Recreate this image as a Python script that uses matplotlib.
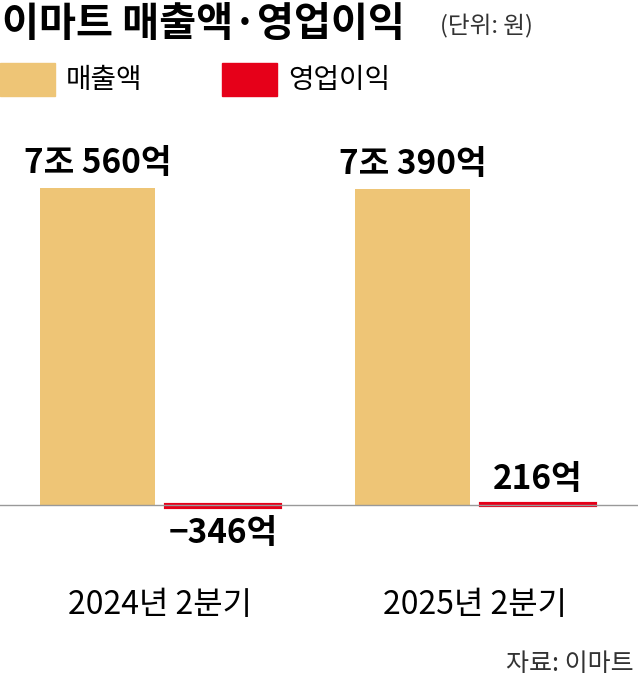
import matplotlib
matplotlib.use("Agg")
import matplotlib.pyplot as plt

plt.rcParams['font.family'] = ['Noto Sans CJK KR', 'DejaVu Sans']

categories = ["2024년 2분기", "2025년 2분기"]
revenue = [70560, 70390]
profit = [-346, 216]
revenue_labels = ["7조 560억", "7조 390억"]
profit_labels = ["−346억", "216억"]

W, H = 638, 684
fig = plt.figure(figsize=(W/100, H/100), dpi=100)
ax = fig.add_axes([0, (H-560)/H, 1, 440/H])
scale = 70560/317
ax.set_xlim(-160/315, (638-160)/315)
ax.set_ylim(-55*scale, 385*scale)
ax.axis('off')

tan = '#eec576'
red = '#e60019'
xs = [0, 1]
ax.bar([x-0.198 for x in xs], revenue, width=0.365, color=tan)
ax.axhline(0, color='#999999', linewidth=1)
ax.bar([x+0.2 for x in xs], profit, width=0.36, color=red, edgecolor=red, linewidth=3)

for i, x in enumerate(xs):
    ax.text(x-0.198, revenue[i]+8*scale, revenue_labels[i], ha='center', va='bottom',
            fontsize=24, fontweight='bold')
    if profit[i] < 0:
        ax.text(x+0.2, profit[i]-10*scale, profit_labels[i], ha='center', va='top',
                fontsize=24, fontweight='bold')
    else:
        ax.text(x+0.2, profit[i]+8*scale, profit_labels[i], ha='center', va='bottom',
                fontsize=24, fontweight='bold')
    ax.text(x, -100*scale, categories[i], ha='center', va='center', fontsize=23)

fig.text(2/W, 1-24/H, "이마트 매출액·영업이익", fontsize=29, fontweight='bold', va='center', ha='left')
fig.text(440/W, 1-26/H, "(단위: 원)", fontsize=17, va='center', ha='left', color='#333333')
fig.patches.append(plt.Rectangle((0, 1-96/H), 55/W, 33/H, transform=fig.transFigure, color=tan))
fig.patches.append(plt.Rectangle((222/W, 1-96/H), 55/W, 33/H, transform=fig.transFigure, color=red))
fig.text(66/W, 1-80/H, "매출액", fontsize=20, va='center', ha='left')
fig.text(288/W, 1-80/H, "영업이익", fontsize=20, va='center', ha='left')
fig.text(634/W, 1-664/H, "자료: 이마트", fontsize=18, va='center', ha='right', color='#333333')

fig.savefig("out.png", dpi=100)
